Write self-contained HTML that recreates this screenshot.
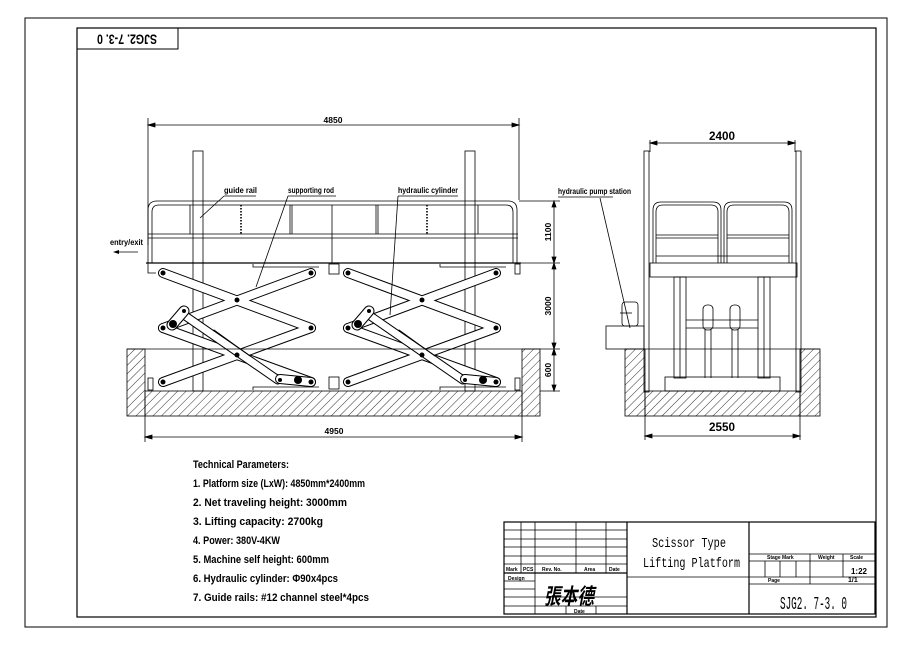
<!DOCTYPE html>
<html><head><meta charset="utf-8"><style>
html,body{margin:0;padding:0;background:#fff;}
svg{display:block;font-family:"Liberation Sans",sans-serif;}
.t{font-weight:bold;}
</style></head><body>
<svg width="912" height="645" viewBox="0 0 912 645" xmlns="http://www.w3.org/2000/svg">
<defs>
<pattern id="h" width="6" height="6" patternUnits="userSpaceOnUse" patternTransform="rotate(45)">
<line x1="0" y1="0" x2="0" y2="6" stroke="#000" stroke-width="0.8"/>
</pattern>
<g id="set" fill="none" stroke-linecap="round">
<g stroke="#000" stroke-width="10">
<line x1="163" y1="273" x2="311" y2="328"/><line x1="311" y1="273" x2="163" y2="328"/>
<line x1="163" y1="328" x2="311" y2="382"/><line x1="311" y1="328" x2="163" y2="382"/>
</g>
<g stroke="#fff" stroke-width="8">
<line x1="163" y1="273" x2="311" y2="328"/><line x1="311" y1="273" x2="163" y2="328"/>
<line x1="163" y1="328" x2="311" y2="382"/><line x1="311" y1="328" x2="163" y2="382"/>
</g>
<line x1="181" y1="313" x2="278" y2="380" stroke="#000" stroke-width="9"/>
<line x1="181" y1="313" x2="278" y2="380" stroke="#fff" stroke-width="7"/>
<line x1="214" y1="330" x2="250" y2="356" stroke="#000" stroke-width="1"/>
<line x1="172" y1="325" x2="184" y2="311" stroke="#000" stroke-width="11"/>
<line x1="172" y1="325" x2="184" y2="311" stroke="#fff" stroke-width="9"/>
<line x1="280" y1="379" x2="311" y2="382" stroke="#000" stroke-width="10"/>
<line x1="280" y1="379" x2="311" y2="382" stroke="#fff" stroke-width="8"/>
<g fill="#000" stroke="none">
<circle cx="163" cy="273" r="2.5"/><circle cx="311" cy="273" r="2.5"/><circle cx="237" cy="300" r="2.5"/>
<circle cx="163" cy="328" r="2.5"/><circle cx="311" cy="328" r="2.5"/><circle cx="237" cy="355" r="2.5"/>
<circle cx="163" cy="382" r="2.5"/><circle cx="311" cy="382" r="2.5"/><circle cx="173" cy="324" r="4"/><circle cx="298" cy="380" r="4"/><circle cx="184" cy="311" r="2"/><circle cx="280" cy="380" r="2"/>
</g>
</g>
</defs>
<rect x="25" y="18" width="862" height="609" fill="none" stroke="#000" stroke-width="1"/>
<rect x="77" y="28" width="799" height="589" fill="none" stroke="#000" stroke-width="1.2"/>
<rect x="77" y="28" width="101" height="21" fill="none" stroke="#000" stroke-width="1"/>
<text class="t" x="127" y="38" font-size="14" text-anchor="middle" transform="rotate(180 127 38)" dominant-baseline="middle" textLength="60" lengthAdjust="spacingAndGlyphs">SJG2. 7-3. 0</text>

<g stroke="#000" fill="none" stroke-width="0.8">
<line x1="148" y1="118" x2="148" y2="245"/><line x1="519" y1="118" x2="519" y2="200"/>
<line x1="148" y1="125" x2="519" y2="125"/>
<path d="M148,125 l7,-2 v4z M519,125 l-7,-2 v4z" fill="#000"/>
<rect x="193" y="151" width="10" height="240"/><rect x="465" y="151" width="10" height="240"/>
<path d="M148,263 V210 q0,-9 9,-9 H508 q9,0 9,9 V263"/>
<path d="M152,263 V212 q0,-7 7,-7 H506 q7,0 7,7 V263"/>
<line x1="148" y1="234" x2="518" y2="234"/><line x1="148" y1="238" x2="518" y2="238"/>
<line x1="146" y1="263" x2="521" y2="263" stroke-width="1.2"/>
<line x1="190" y1="205" x2="190" y2="234"/><line x1="290" y1="205" x2="290" y2="234"/><line x1="292" y1="205" x2="292" y2="234"/>
<line x1="332" y1="205" x2="332" y2="263"/><line x1="376" y1="205" x2="376" y2="234"/><line x1="378" y1="205" x2="378" y2="234"/><line x1="478" y1="205" x2="478" y2="234"/>
<line x1="241" y1="205" x2="241" y2="234" stroke-dasharray="1.5 1.5" stroke-width="1.6"/>
<line x1="427" y1="205" x2="427" y2="234" stroke-dasharray="1.5 1.5" stroke-width="1.6"/>
<path d="M148,263 v10 h8"/><rect x="329" y="264" width="10" height="10"/><rect x="329" y="377" width="10" height="12"/>
<path d="M253,264 v3 h66"/><path d="M440,264 v3 h66"/><path d="M253,390 v-3 h66"/><path d="M440,390 v-3 h66"/>
<rect x="515" y="264" width="5" height="10"/><rect x="148" y="378" width="5" height="12"/><rect x="515" y="378" width="5" height="12"/>
</g>
<use href="#set"/><use href="#set" transform="translate(185,0)"/>
<g stroke="#000" stroke-width="0.8">
<line x1="127" y1="349" x2="560" y2="349"/>
<rect x="127" y="349" width="18" height="67" fill="url(#h)"/>
<rect x="522" y="349" width="18" height="67" fill="url(#h)"/>
<rect x="145" y="391" width="377" height="25" fill="url(#h)"/>
<line x1="145" y1="416" x2="145" y2="442"/><line x1="522" y1="416" x2="522" y2="442"/>
<line x1="145" y1="437" x2="522" y2="437"/>
<path d="M145,437 l7,-2 v4z M522,437 l-7,-2 v4z" fill="#000"/>
<line x1="519" y1="201" x2="560" y2="201"/><line x1="521" y1="263" x2="560" y2="263"/><line x1="540" y1="391" x2="560" y2="391"/>
<line x1="554" y1="201" x2="554" y2="391"/>
<path d="M554,201 l-2,6 h4z M554,263 l-2,-6 h4z M554,263 l-2,6 h4z M554,349 l-2,-6 h4z M554,349 l-2,6 h4z M554,391 l-2,-6 h4z" fill="#000"/>
<line x1="224" y1="196" x2="200" y2="218"/><line x1="224" y1="196" x2="256" y2="196"/>
<line x1="288" y1="196" x2="256" y2="287"/><line x1="288" y1="196" x2="336" y2="196"/>
<line x1="398" y1="196" x2="390" y2="315"/><line x1="398" y1="196" x2="458" y2="196"/>
<line x1="115" y1="252" x2="138" y2="252"/>
</g>
<path d="M113,252 l6,-2 v4z" fill="#000"/>
<g class="t" font-size="8.5">
<text x="224" y="193" textLength="33" lengthAdjust="spacingAndGlyphs">guide rail</text>
<text x="288" y="193" textLength="46" lengthAdjust="spacingAndGlyphs">supporting rod</text>
<text x="398" y="193" textLength="60" lengthAdjust="spacingAndGlyphs">hydraulic cylinder</text>
<text x="110" y="245" textLength="33" lengthAdjust="spacingAndGlyphs">entry/exit</text>
<text x="333" y="123" text-anchor="middle">4850</text>
<text x="334" y="434" text-anchor="middle">4950</text>
<text transform="translate(551,232) rotate(-90)" text-anchor="middle">1100</text>
<text transform="translate(551,306) rotate(-90)" text-anchor="middle">3000</text>
<text transform="translate(551,370) rotate(-90)" text-anchor="middle">600</text>
<text x="558" y="194" textLength="73" lengthAdjust="spacingAndGlyphs">hydraulic pump station</text>
</g>

<g stroke="#000" fill="none" stroke-width="0.8">
<line x1="650" y1="140" x2="650" y2="152"/><line x1="795" y1="140" x2="795" y2="152"/>
<line x1="650" y1="143" x2="795" y2="143"/>
<path d="M650,143 l7,-2 v4z M795,143 l-7,-2 v4z" fill="#000"/>
<rect x="644" y="151" width="5" height="241"/><rect x="796" y="151" width="5" height="241"/>
<path d="M653,263 V210 q0,-8 8,-8 H713 q8,0 8,8 V263"/><path d="M656,263 V212 q0,-7 7,-7 H711 q7,0 7,7 V263"/>
<path d="M724,263 V210 q0,-8 8,-8 H784 q8,0 8,8 V263"/><path d="M727,263 V212 q0,-7 7,-7 H782 q7,0 7,7 V263"/>
<line x1="656" y1="235" x2="718" y2="235"/><line x1="656" y1="238" x2="718" y2="238"/>
<line x1="727" y1="235" x2="789" y2="235"/><line x1="727" y1="238" x2="789" y2="238"/>
<line x1="656" y1="256" x2="789" y2="256"/>
<rect x="650" y="263" width="147" height="14"/>
<rect x="674" y="277" width="12" height="101"/><line x1="680" y1="277" x2="680" y2="378"/>
<rect x="758" y="277" width="12" height="101"/><line x1="764" y1="277" x2="764" y2="378"/>
<line x1="686" y1="320" x2="758" y2="320"/><line x1="686" y1="328" x2="758" y2="328"/>
<rect x="703" y="305" width="10" height="25" rx="4"/><rect x="730" y="305" width="10" height="25" rx="4"/>
<line x1="705" y1="330" x2="705" y2="378"/><line x1="711" y1="330" x2="711" y2="378"/>
<line x1="732" y1="330" x2="732" y2="378"/><line x1="738" y1="330" x2="738" y2="378"/>
<rect x="665" y="377" width="115" height="14"/>
<rect x="606" y="326" width="38" height="23"/>
<rect x="622" y="302" width="16" height="24" rx="3"/>
<line x1="620" y1="313" x2="632" y2="313"/>
<line x1="600" y1="198" x2="630" y2="328"/><line x1="558" y1="197" x2="613" y2="197"/>
<line x1="625" y1="349" x2="820" y2="349"/>
<rect x="625" y="349" width="20" height="67" fill="url(#h)"/>
<rect x="800" y="349" width="20" height="67" fill="url(#h)"/>
<rect x="645" y="391" width="155" height="25" fill="url(#h)"/>
<line x1="645" y1="416" x2="645" y2="440"/><line x1="800" y1="416" x2="800" y2="440"/>
<line x1="645" y1="436" x2="800" y2="436"/>
<path d="M645,436 l7,-2 v4z M800,436 l-7,-2 v4z" fill="#000"/>
</g>
<g class="t" font-size="12">
<text x="722" y="140" text-anchor="middle" textLength="26" lengthAdjust="spacingAndGlyphs">2400</text>
<text x="722" y="431" text-anchor="middle" textLength="26" lengthAdjust="spacingAndGlyphs">2550</text>
</g>

<g class="t" font-size="11" lengthAdjust="spacingAndGlyphs">
<text x="193" y="468" textLength="96" lengthAdjust="spacingAndGlyphs">Technical Parameters:</text>
<text x="193" y="487" textLength="172" lengthAdjust="spacingAndGlyphs">1. Platform size (LxW): 4850mm*2400mm</text>
<text x="193" y="506" textLength="154" lengthAdjust="spacingAndGlyphs">2. Net traveling height:  3000mm</text>
<text x="193" y="525" textLength="130" lengthAdjust="spacingAndGlyphs">3. Lifting capacity:  2700kg</text>
<text x="193" y="544" textLength="87" lengthAdjust="spacingAndGlyphs">4. Power: 380V-4KW</text>
<text x="193" y="563" textLength="136" lengthAdjust="spacingAndGlyphs">5. Machine self height: 600mm</text>
<text x="193" y="582" textLength="145" lengthAdjust="spacingAndGlyphs">6. Hydraulic cylinder: Φ90x4pcs</text>
<text x="193" y="601" textLength="176" lengthAdjust="spacingAndGlyphs">7. Guide rails: #12 channel steel*4pcs</text>
</g>

<g stroke="#000" fill="none" stroke-width="0.8">
<rect x="504" y="522" width="371" height="92" stroke-width="1.2"/>
<line x1="627" y1="522" x2="627" y2="614" stroke-width="1.2"/>
<line x1="749" y1="522" x2="749" y2="614" stroke-width="1.2"/>
<line x1="504" y1="530" x2="627" y2="530"/><line x1="504" y1="539" x2="627" y2="539"/>
<line x1="504" y1="547" x2="627" y2="547"/><line x1="504" y1="556" x2="627" y2="556"/>
<line x1="504" y1="564" x2="627" y2="564"/><line x1="504" y1="573" x2="627" y2="573" stroke-width="1.2"/>
<line x1="504" y1="581" x2="535" y2="581"/><line x1="504" y1="589" x2="535" y2="589"/><line x1="504" y1="597" x2="627" y2="597"/><line x1="504" y1="606" x2="627" y2="606"/>
<line x1="521" y1="522" x2="521" y2="573"/><line x1="535" y1="522" x2="535" y2="614"/>
<line x1="576" y1="522" x2="576" y2="573"/><line x1="566" y1="606" x2="566" y2="614"/><line x1="596" y1="606" x2="596" y2="614"/>
<line x1="606" y1="522" x2="606" y2="573"/>
<line x1="627" y1="577" x2="749" y2="577"/>
<line x1="749" y1="554" x2="875" y2="554"/><line x1="749" y1="561" x2="875" y2="561"/>
<line x1="749" y1="577" x2="875" y2="577"/><line x1="749" y1="584" x2="875" y2="584"/>
<line x1="810" y1="554" x2="810" y2="584"/><line x1="843" y1="554" x2="843" y2="577"/>
<line x1="765" y1="561" x2="765" y2="577"/><line x1="780" y1="561" x2="780" y2="577"/><line x1="796" y1="561" x2="796" y2="577"/>
</g>
<g class="t" font-size="5">
<text x="506" y="571">Mark</text><text x="523" y="571">PCS</text><text x="542" y="571">Rev. No.</text><text x="584" y="571">Area</text><text x="609" y="571">Date</text>
<text x="508" y="580">Design</text><text x="574" y="613">Date</text>
<text x="767" y="559">Stage Mark</text><text x="818" y="559">Weight</text><text x="850" y="559">Scale</text>
<text x="768" y="582">Page</text>
</g>
<text class="t" x="859" y="574" font-size="8" text-anchor="middle">1:22</text>
<text class="t" x="848" y="582" font-size="7">1/1</text>
<text x="652" y="547" font-size="14" font-family="Liberation Mono, monospace" textLength="74" lengthAdjust="spacingAndGlyphs">Scissor Type</text>
<text x="643" y="567" font-size="14" font-family="Liberation Mono, monospace" textLength="97" lengthAdjust="spacingAndGlyphs">Lifting Platform</text>
<text x="780" y="609" font-size="18" font-family="Liberation Mono, monospace" textLength="67" lengthAdjust="spacingAndGlyphs">SJG2. 7-3. 0</text>
<text x="569" y="604" font-size="22" font-weight="bold" text-anchor="middle" font-style="italic" font-family="Noto Sans CJK SC, sans-serif" textLength="50" lengthAdjust="spacingAndGlyphs">張本德</text>
</svg>
</body></html>
